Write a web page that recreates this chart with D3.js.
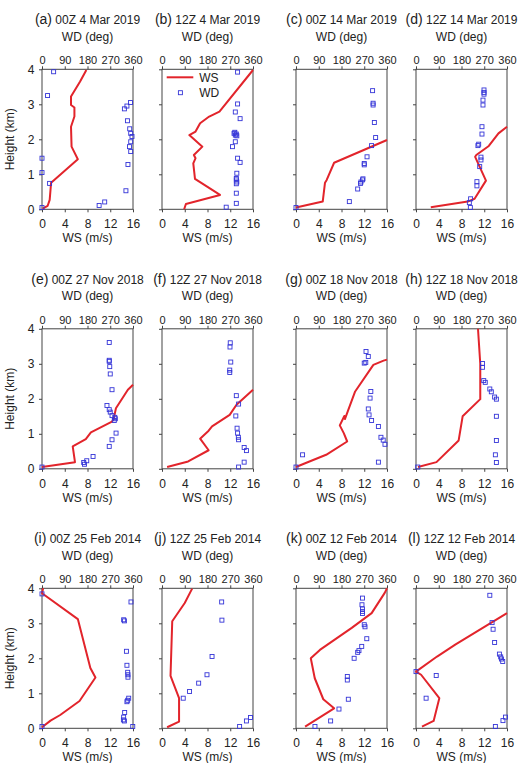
<!DOCTYPE html>
<html>
<head>
<meta charset="utf-8">
<script src="https://cdn.jsdelivr.net/npm/d3@7"></script>
<style>
  body { margin: 0; background: #fff; }
  text { font-family: "Liberation Sans", Arial, sans-serif; fill: #222; }
</style>
</head>
<body>
<svg id="chart" width="521" height="763"></svg>
<script>
// panel labels and titles
const panelTags = ['(a)', '(b)', '(c)', '(d)', '(e)', '(f)', '(g)', '(h)', '(i)', '(j)', '(k)', '(l)'];
const panelTitles = ['00Z 4 Mar 2019', '12Z 4 Mar 2019', '00Z 14 Mar 2019', '12Z 14 Mar 2019',
  '00Z 27 Nov 2018', '12Z 27 Nov 2018', '00Z 18 Nov 2018', '12Z 18 Nov 2018',
  '00Z 25 Feb 2014', '12Z 25 Feb 2014', '00Z 12 Feb 2014', '12Z 12 Feb 2014'];

const heightTicks = [0, 1, 2, 3, 4];
const wsTicks = [0, 4, 8, 12, 16];
const wdTicks = [0, 90, 180, 270, 360];

// wind speed profiles: [ws (m/s), height (km)]
const wsA = [[0.1,0.02],[1.0,0.1],[1.35,0.27],[1.6,0.76],[6.3,1.43],[5.2,1.79],[5.1,2.36],[5.7,2.65],[5.7,2.91],[5.1,2.98],[5.1,3.22],[6.7,3.65],[7.8,3.98]];
const wsB = [[3.9,0.0],[4.2,0.15],[10.2,0.41],[5.8,0.87],[5.5,1.31],[5.9,1.46],[5.6,1.55],[7.1,1.79],[4.8,2.12],[5.9,2.22],[6.7,2.46],[8.3,2.65],[10.1,2.79],[16,3.98]];
const wsC = [[0,0.05],[4.7,0.22],[5.1,0.76],[5.4,0.84],[6.7,1.33],[16,1.98]];
const wsD = [[2.6,0.06],[9.1,0.22],[10.3,0.3],[12.3,0.82],[10.4,1.5],[10.6,1.55],[12.8,1.81],[14.5,2.17],[16,2.36]];
const wsE = [[0,0.05],[5.8,0.19],[5.4,0.64],[7.7,0.85],[8.6,1.04],[12.3,1.35],[12.6,1.42],[13,1.73],[15.1,2.26],[16,2.4]];
const wsF = [[0.9,0.05],[4.6,0.21],[8.2,0.53],[6.7,0.86],[8.2,1.09],[8.8,1.21],[11.9,1.54],[13.1,1.83],[16,2.26]];
const wsG = [[0,0.05],[1.5,0.15],[5.3,0.4],[9.0,0.78],[8.4,1.02],[7.7,1.24],[8.5,1.51],[8.6,1.42],[9.1,1.64],[10.4,2.21],[13.6,2.97],[15.4,3.09],[16,3.12]];
const wsH = [[0.35,0.05],[3.6,0.19],[7.5,0.81],[8.2,1.5],[11.3,1.99],[11.3,3.0],[10.9,4.0]];
const wsI = [[0.2,4.0],[0,3.86],[6.3,3.12],[8.5,1.72],[9.4,1.45],[6.6,0.78],[3.2,0.38],[1.5,0.22],[0,0.03]];
const wsJ = [[0.9,0.03],[3.0,0.19],[3.0,0.86],[1.5,1.5],[1.8,3.06],[4.0,3.58],[5.3,3.99]];
const wsK = [[1.6,0.05],[6.7,0.57],[4.8,0.83],[3.3,1.43],[2.6,2.0],[4.2,2.24],[9.8,2.87],[13.3,3.29],[15.6,3.87],[16,4.0]];
const wsL = [[1.05,0.05],[3.1,0.21],[4.1,0.86],[0.9,1.53],[0,1.62],[3.7,2.05],[6.9,2.39],[16,3.29]];

// wind direction samples: [wd (deg), height (km)]
const wdA = [[46,3.93],[22,3.25],[0,1.46],[0,1.05],[30,0.74],[0,0.05],[226,0.11],[248,0.21],[332,0.53],[340,1.28],[351,1.65],[346,1.79],[351,1.93],[356,2.08],[351,2.17],[347,2.3],[338,2.53],[326,2.87],[336,2.95],[350,3.05]];
const wdB = [[299,3.92],[299,3.01],[290,2.78],[309,2.59],[288,2.2],[285,2.17],[290,2.12],[296,2.1],[294,2.15],[279,1.79],[290,1.93],[299,1.46],[309,1.34],[296,1.03],[294,0.88],[294,0.84],[296,0.78],[294,0.73],[294,0.46],[294,0.17],[254,0.06]];
const wdC = [[0,0.05],[211,0.22],[244,0.58],[255,0.74],[257,0.78],[263,0.84],[265,0.87],[270,1.31],[270,1.27],[281,1.5],[299,1.82],[315,2.05],[310,2.48],[305,2.98],[305,3.03],[303,3.39]];
const wdD = [[215,0.05],[211,0.19],[216,0.3],[241,0.67],[241,0.79],[252,1.22],[257,1.41],[257,1.49],[245,1.82],[248,1.86],[261,2.15],[261,2.36],[265,2.98],[265,3.12],[269,3.29],[269,3.34],[269,3.41]];
const wdE = [[0,0.05],[165,0.18],[168,0.13],[177,0.23],[202,0.35],[266,0.64],[277,0.83],[293,1.02],[286,1.38],[290,1.43],[288,1.47],[277,1.52],[270,1.62],[266,1.69],[257,1.81],[277,2.26],[270,2.71],[268,2.92],[266,3.07],[266,3.1],[266,3.61]];
const wdF = [[303,0.05],[325,0.19],[334,0.52],[325,0.61],[303,0.83],[302,0.9],[299,1.02],[297,1.16],[292,1.51],[303,1.85],[294,2.09],[268,2.75],[268,2.82],[272,3.05],[269,3.48],[270,3.6]];
const wdG = [[0,0.05],[26,0.4],[326,0.19],[336,0.9],[345,0.82],[352,0.7],[326,1.21],[299,1.38],[289,1.54],[286,1.71],[293,2.02],[296,2.21],[270,3.02],[276,3.04],[286,3.21],[277,3.35]];
const wdH = [[7,0.05],[318,0.18],[314,0.4],[318,0.81],[318,1.5],[318,1.99],[311,2.05],[298,2.2],[292,2.28],[274,2.47],[268,2.52],[263,2.9],[263,3.01]];
const wdI = [[0,3.84],[0,0.05],[352,3.61],[323,3.1],[326,3.07],[334,2.2],[336,1.8],[339,1.6],[340,1.53],[340,1.46],[343,0.86],[339,0.8],[336,0.76],[327,0.45],[323,0.32],[322,0.24],[326,0.21],[359,0.05]];
const wdJ = [[307,0.05],[334,0.21],[350,0.31],[84,0.86],[109,1.05],[145,1.29],[178,1.53],[198,2.05],[237,3.09],[236,3.61]];
const wdK = [[75,0.05],[137,0.21],[170,0.55],[207,0.83],[203,1.38],[203,1.48],[230,2.0],[244,2.17],[249,2.22],[260,2.34],[280,2.56],[273,2.9],[270,2.96],[263,3.28],[263,3.34],[263,3.41],[261,3.53],[263,3.72]];
const wdL = [[0,1.62],[80,1.51],[40,0.86],[314,0.05],[344,0.22],[354,0.32],[343,1.91],[338,1.98],[335,2.04],[330,2.12],[311,2.45],[305,2.83],[301,3.02],[292,3.8]];

const wsSeries = [wsA, wsB, wsC, wsD, wsE, wsF, wsG, wsH, wsI, wsJ, wsK, wsL];
const wdSeries = [wdA, wdB, wdC, wdD, wdE, wdF, wdG, wdH, wdI, wdJ, wdK, wdL];

// ===== layout ===== //
const plotW = 91, plotH = 140;
const colLeft = [42, 162, 296, 416];
const rowTop = [69.3, 328.8, 588.3];
const red = '#e2242b', blue = '#3535d8', axisColor = '#444';

const svg = d3.select('#chart');

const x = d3.scaleLinear().domain([0, 16]).range([0, plotW]);
const xd = d3.scaleLinear().domain([0, 360]).range([0, plotW]);
const y = d3.scaleLinear().domain([0, 4]).range([plotH, 0]);

const line = d3.line().x(d => x(d[0])).y(d => y(d[1]));
const fmt = d3.format('d');

const styleAxis = (g, size) => {
  g.select('.domain').remove();
  g.selectAll('line').attr('stroke', axisColor);
  g.selectAll('text').attr('font-size', size).attr('fill', '#222')
    .attr('font-family', '"Liberation Sans", Arial, sans-serif');
};

panelTitles.forEach((title, i) => {
  const col = i % 4, row = Math.floor(i / 4);
  const g = svg.append('g').attr('transform', `translate(${colLeft[col]},${rowTop[row]})`);

  // title + WD axis label
  const t = g.append('text').attr('x', plotW / 2).attr('y', -45.3).attr('text-anchor', 'middle');
  t.append('tspan').attr('font-size', 14).text(panelTags[i]);
  t.append('tspan').attr('font-size', 12).text(' ' + title);
  g.append('text').attr('x', plotW / 2).attr('y', -28.6).attr('text-anchor', 'middle')
    .attr('font-size', 12).text('WD (deg)');

  // axes
  g.append('g').attr('transform', `translate(0,${plotH})`)
    .call(d3.axisBottom(x).tickValues(wsTicks).tickFormat(fmt).tickSize(3).tickPadding(7.5))
    .call(a => styleAxis(a, 12));
  g.append('g')
    .call(d3.axisTop(xd).tickValues(wdTicks).tickFormat(fmt).tickSize(3).tickPadding(2.3))
    .call(a => styleAxis(a, 11));
  const left = g.append('g')
    .call(d3.axisLeft(y).tickValues(heightTicks).tickFormat(fmt).tickSize(3).tickPadding(4.7))
    .call(a => styleAxis(a, 12));
  if (col !== 0) left.selectAll('text').remove();

  g.append('text').attr('x', plotW / 2).attr('y', plotH + 33).attr('text-anchor', 'middle')
    .attr('font-size', 12).text('WS (m/s)');

  if (col === 0) {
    g.append('text').attr('transform', `translate(${-28},${plotH / 2}) rotate(-90)`)
      .attr('text-anchor', 'middle').attr('font-size', 12).text('Height (km)');
  }

  // frame
  g.append('rect').attr('width', plotW).attr('height', plotH)
    .attr('fill', 'none').attr('stroke', axisColor).attr('stroke-width', 1);

  // WS line
  g.append('path').datum(wsSeries[i]).attr('d', line)
    .attr('fill', 'none').attr('stroke', red).attr('stroke-width', 2)
    .attr('stroke-linejoin', 'round');

  // WD squares
  g.append('g').selectAll('rect').data(wdSeries[i]).enter().append('rect')
    .attr('x', d => xd(d[0]) - 2).attr('y', d => y(d[1]) - 2)
    .attr('width', 4).attr('height', 4)
    .attr('fill', 'none').attr('stroke', blue).attr('stroke-width', 0.9);

  // legend in panel (b)
  if (i === 1) {
    const lg = g.append('g').attr('transform', 'translate(4.7,8)');
    lg.append('line').attr('x1', 0).attr('x2', 26.6).attr('y1', 0).attr('y2', 0)
      .attr('stroke', red).attr('stroke-width', 2);
    lg.append('text').attr('x', 32.5).attr('y', 4.3).attr('font-size', 12).text('WS');
    lg.append('rect').attr('x', 11.7).attr('y', 13.4).attr('width', 4).attr('height', 4)
      .attr('fill', 'none').attr('stroke', blue).attr('stroke-width', 0.9);
    lg.append('text').attr('x', 32.5).attr('y', 19.7).attr('font-size', 12).text('WD');
  }
});
</script>
</body>
</html>
